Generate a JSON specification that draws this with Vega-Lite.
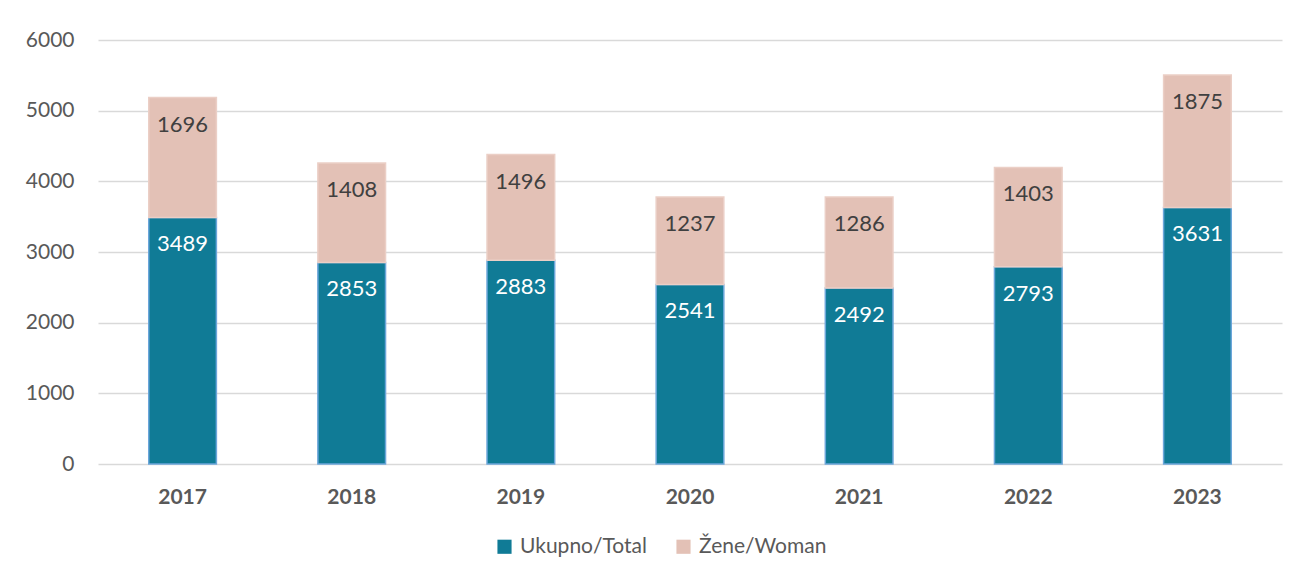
{
  "$schema": "https://vega.github.io/schema/vega-lite/v6.json",
  "width": 1184,
  "height": 424,
  "autosize": {"type": "none"},
  "padding": {"left": 98, "top": 40, "right": 17, "bottom": 117},
  "background": "white",
  "data": {
    "values": [
      {"year": "2017", "series": "Ukupno/Total", "ord": 1, "value": 3489},
      {"year": "2017", "series": "Žene/Woman", "ord": 2, "value": 1696},
      {"year": "2018", "series": "Ukupno/Total", "ord": 1, "value": 2853},
      {"year": "2018", "series": "Žene/Woman", "ord": 2, "value": 1408},
      {"year": "2019", "series": "Ukupno/Total", "ord": 1, "value": 2883},
      {"year": "2019", "series": "Žene/Woman", "ord": 2, "value": 1496},
      {"year": "2020", "series": "Ukupno/Total", "ord": 1, "value": 2541},
      {"year": "2020", "series": "Žene/Woman", "ord": 2, "value": 1237},
      {"year": "2021", "series": "Ukupno/Total", "ord": 1, "value": 2492},
      {"year": "2021", "series": "Žene/Woman", "ord": 2, "value": 1286},
      {"year": "2022", "series": "Ukupno/Total", "ord": 1, "value": 2793},
      {"year": "2022", "series": "Žene/Woman", "ord": 2, "value": 1403},
      {"year": "2023", "series": "Ukupno/Total", "ord": 1, "value": 3631},
      {"year": "2023", "series": "Žene/Woman", "ord": 2, "value": 1875}
    ]
  },
  "encoding": {
    "x": {
      "field": "year", "type": "nominal",
      "scale": {"paddingInner": 0.6, "paddingOuter": 0.3},
      "axis": {"title": null, "labelAngle": 0, "domain": false, "ticks": false, "labelPadding": 22, "labelFont": "Lato", "labelFontSize": 21, "labelFontWeight": "bold", "labelColor": "#595959"}
    },
    "y": {
      "field": "value", "type": "quantitative", "stack": "zero",
      "scale": {"domain": [0, 6000]},
      "axis": {"title": null, "format": "d", "values": [0, 1000, 2000, 3000, 4000, 5000, 6000], "domain": false, "ticks": false, "labelPadding": 24, "labelFont": "Lato", "labelFontSize": 21, "labelColor": "#595959", "gridColor": "#d9d9d9", "gridWidth": 1.5}
    },
    "order": {"field": "ord", "type": "quantitative"}
  },
  "layer": [
    {
      "mark": {"type": "bar", "strokeWidth": 1.5},
      "encoding": {
        "color": {
          "field": "series", "type": "nominal",
          "scale": {"domain": ["Ukupno/Total", "Žene/Woman"], "range": ["#107B96", "#E3C1B6"]},
          "legend": {"title": null, "orient": "none", "legendX": 396, "legendY": 496, "direction": "horizontal", "symbolType": "square", "symbolSize": 200, "symbolStrokeWidth": 1.5, "labelFont": "Lato", "labelFontSize": 21, "labelColor": "#595959", "columnPadding": 26, "labelOffset": 5}
        },
        "stroke": {
          "field": "series", "type": "nominal",
          "scale": {"domain": ["Ukupno/Total", "Žene/Woman"], "range": ["#6BA6DA", "#EBCFC6"]},
          "legend": null
        }
      }
    },
    {
      "mark": {"type": "text", "dy": 27, "baseline": "middle", "font": "Lato", "fontSize": 22},
      "encoding": {
        "text": {"field": "value", "type": "quantitative", "format": "d"},
        "color": {
          "field": "series", "type": "nominal",
          "scale": {"domain": ["Ukupno/Total", "Žene/Woman"], "range": ["#ffffff", "#404040"]},
          "legend": null
        }
      }
    }
  ],
  "resolve": {"scale": {"color": "independent"}},
  "config": {"view": {"stroke": null}}
}
